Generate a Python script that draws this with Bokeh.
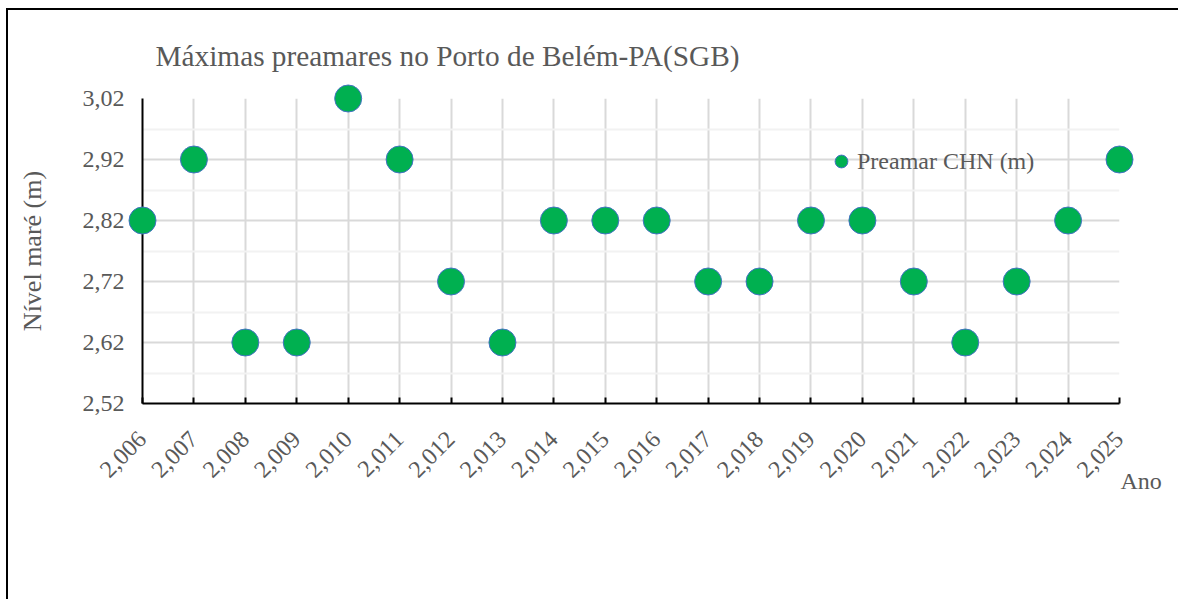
import math
from bokeh.plotting import figure
from bokeh.models import FixedTicker, Legend, LegendItem
from bokeh.core.properties import value
from bokeh.embed import file_html
from bokeh.resources import INLINE

years = [2006, 2007, 2008, 2009, 2010, 2011, 2012, 2013, 2014, 2015,
         2016, 2017, 2018, 2019, 2020, 2021, 2022, 2023, 2024, 2025]
preamar = [2.82, 2.92, 2.62, 2.62, 3.02, 2.92, 2.72, 2.62, 2.82, 2.82,
           2.82, 2.72, 2.72, 2.82, 2.82, 2.72, 2.62, 2.72, 2.82, 2.92]
x_labels = ["2,006", "2,007", "2,008", "2,009", "2,010", "2,011", "2,012", "2,013", "2,014", "2,015",
            "2,016", "2,017", "2,018", "2,019", "2,020", "2,021", "2,022", "2,023", "2,024", "2,025"]
y_ticks = [2.52, 2.62, 2.72, 2.82, 2.92, 3.02]
y_minor = [2.57, 2.67, 2.77, 2.87, 2.97]
y_labels = ["2,52", "2,62", "2,72", "2,82", "2,92", "3,02"]
x_title = "Ano"

FONT = "Liberation Serif"
GRAY = "#595959"

p = figure(width=1172, height=591, output_backend="svg", toolbar_location=None,
           x_range=(2006, 2025), y_range=(2.52, 3.02),
           min_border_left=134, min_border_right=61, min_border_top=88, min_border_bottom=198)
p.outline_line_color = None
# chart-area edge: a 2px dark shadow along the top and left of the figure
p.styles = {"margin-left": "8px", "margin-top": "10px", "overflow": "hidden",
            "box-shadow": "-2px -2px 0px 0px black"}

p.title.text = "Máximas preamares no Porto de Belém-PA(SGB)"
p.title.text_font = FONT
p.title.text_font_size = "29.3px"
p.title.text_font_style = "normal"
p.title.text_color = GRAY
p.title.align = "left"
p.title.offset = 13
p.title.standoff = 53

r = p.scatter(years, preamar, size=27, fill_color="#00B050", line_color="#4472C4",
              line_width=1, level="overlay")

# axes
p.xaxis.ticker = FixedTicker(ticks=years, minor_ticks=[])
p.xaxis.major_label_overrides = {y: l for y, l in zip(years, x_labels)}
p.xaxis.major_label_orientation = math.pi / 4
p.xaxis.major_label_text_font = FONT
p.xaxis.major_label_text_font_size = "24px"
p.xaxis.major_label_text_color = GRAY
p.xaxis.major_tick_in = 6
p.xaxis.major_tick_out = 0
p.xaxis.minor_tick_line_color = None
p.xaxis.axis_line_color = "black"
p.xaxis.axis_line_width = 2
p.xaxis.major_tick_line_width = 2
p.xaxis.major_label_standoff = 32

p.yaxis.ticker = FixedTicker(ticks=y_ticks, minor_ticks=y_minor)
p.yaxis.major_label_overrides = {t: l for t, l in zip(y_ticks, y_labels)}
p.yaxis.major_label_text_font = FONT
p.yaxis.major_label_text_font_size = "24px"
p.yaxis.major_label_text_color = GRAY
p.yaxis.major_tick_line_color = None
p.yaxis.minor_tick_line_color = None
p.yaxis.axis_line_color = "black"
p.yaxis.axis_line_width = 2
p.yaxis.major_label_standoff = 12
p.yaxis.axis_label = "Nível maré (m)"
p.yaxis.axis_label_text_font = FONT
p.yaxis.axis_label_text_font_size = "26px"
p.yaxis.axis_label_text_font_style = "normal"
p.yaxis.axis_label_text_color = GRAY
p.yaxis.axis_label_standoff = 33

p.xgrid.grid_line_color = "#D9D9D9"
p.xgrid.grid_line_width = 2
p.ygrid.grid_line_color = "#D9D9D9"
p.ygrid.grid_line_width = 2
p.ygrid.minor_grid_line_color = "#F2F2F2"
p.ygrid.minor_grid_line_width = 2

legend = Legend(items=[LegendItem(label="Preamar CHN (m)", renderers=[r])],
                location=(683, 226), orientation="vertical")
legend.border_line_color = None
legend.background_fill_alpha = 0
legend.padding = 0
legend.margin = 0
legend.glyph_width = 32
legend.glyph_height = 32
legend.label_standoff = 0
legend.label_text_font = FONT
legend.label_text_font_size = "24px"
legend.label_text_color = GRAY
p.add_layout(legend, "center")

p.text(x=[years[-1]], y=[y_ticks[0]], text=[x_title], x_offset=1, y_offset=77,
       text_font=value(FONT), text_font_size="24px", text_color=GRAY,
       text_baseline="middle", text_align="left", level="overlay")

open("out.html", "w").write(file_html(p, INLINE))
